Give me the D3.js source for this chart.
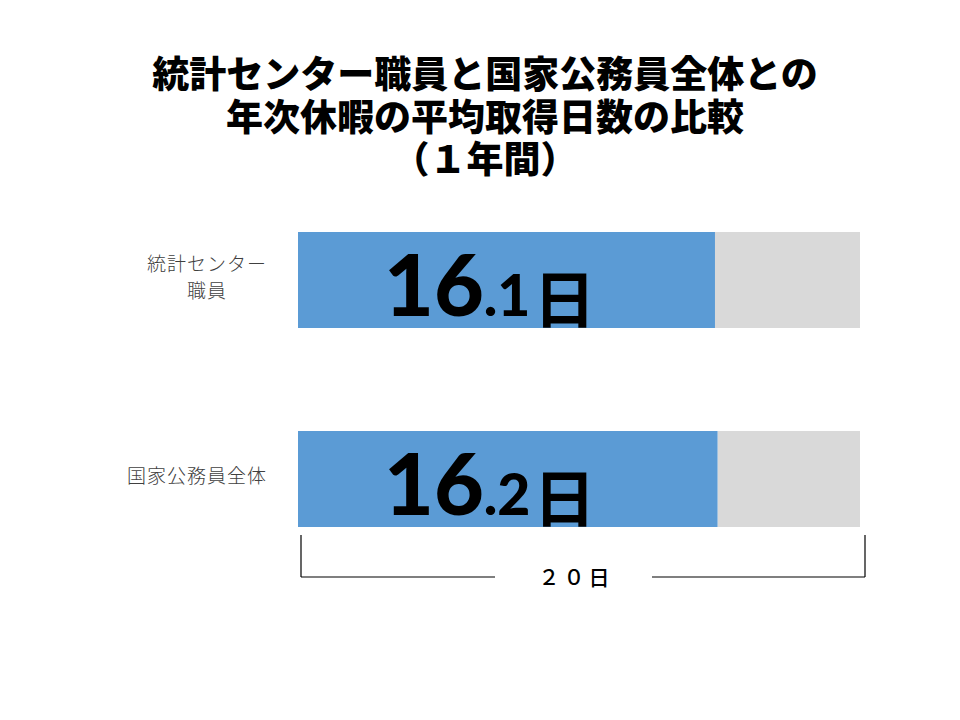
<!DOCTYPE html>
<html>
<head>
<meta charset="utf-8">
<script src="https://cdn.jsdelivr.net/npm/d3@7"></script>
<style>
  html, body { margin: 0; padding: 0; background: #fff; }
</style>
</head>
<body>
<div id="chart"></div>
<script>
const titleLines = ["統計センター職員と国家公務員全体との", "年次休暇の平均取得日数の比較", "（１年間）"];
const categories = [["統計センター", "職員"], ["国家公務員全体"]];
const daysTaken = [16.1, 16.2];
const scaleMax = 21.7;
const bracketLabel = "２０日";

const width = 960;
const height = 720;
const blue = "#5b9bd5";
const grey = "#d9d9d9";

const svg = d3.select("#chart")
    .append("svg")
    .attr("width", width)
    .attr("height", height);

// title
svg.append("g")
    .selectAll("text")
    .data(titleLines)
    .enter().append("text")
    .attr("x", 485)
    .attr("y", (d, i) => 88 + i * 42.5)
    .attr("text-anchor", "middle")
    .style("font-family", "'Noto Sans CJK JP'")
    .style("font-weight", 900)
    .style("font-size", "37px")
    .style("fill", "#000")
    .text(d => d);

const x = d3.scaleLinear()
    .domain([0, scaleMax])
    .range([298, 860]);

const y = d3.scaleBand()
    .domain(d3.range(daysTaken.length))
    .range([232, 527])
    .paddingInner(103 / 199)
    .paddingOuter(0);

const rows = svg.append("g")
    .selectAll("g")
    .data(daysTaken)
    .enter().append("g")
    .attr("transform", (d, i) => `translate(0,${y(i)})`);

// grey remainder
rows.append("rect")
    .attr("x", d => x(d))
    .attr("y", 0)
    .attr("width", d => x(scaleMax) - x(d))
    .attr("height", y.bandwidth())
    .style("fill", grey);

// taken days
rows.append("rect")
    .attr("x", x(0))
    .attr("y", 0)
    .attr("width", d => x(d) - x(0))
    .attr("height", y.bandwidth())
    .style("fill", blue);

// value labels: big integer part, smaller decimal part and 日
const valueText = rows.append("text")
    .attr("x", 384)
    .attr("y", 84)
    .style("fill", "#000");
valueText.append("tspan")
    .style("font-family", "Lato")
    .style("font-weight", 900)
    .style("font-size", "86px")
    .text(d => Math.floor(d));
valueText.append("tspan")
    .style("font-family", "Lato")
    .style("font-weight", 900)
    .style("font-size", "57px")
    .text(d => "." + d3.format(".1f")(d).split(".")[1]);
valueText.append("tspan")
    .attr("dx", 3)
    .attr("dy", 7)
    .style("font-family", "'Noto Sans CJK JP'")
    .style("font-weight", 700)
    .style("font-size", "62px")
    .text("日");

// category labels, right-aligned block with centered lines
rows.each(function (d, i) {
    const g = d3.select(this);
    const lines = categories[i];
    const lineH = 27;
    const texts = g.append("g").selectAll("text")
        .data(lines)
        .enter().append("text")
        .attr("y", (l, j) => y.bandwidth() / 2 + 4 - (lines.length - 1) * lineH / 2 + j * lineH)
        .attr("text-anchor", "middle")
        .style("font-family", "'Noto Sans CJK JP'")
        .style("font-weight", 300)
        .style("font-size", "19px")
        .style("letter-spacing", "1px")
        .style("fill", "#404040")
        .text(l => l);
    let maxW = 0;
    texts.each(function () { maxW = Math.max(maxW, this.getComputedTextLength()); });
    texts.attr("x", 267 - maxW / 2);
});

// bracket below bars
const bracket = svg.append("g")
    .style("stroke", "#000")
    .style("stroke-width", 1.2)
    .style("fill", "none");
const by = 577;
const bl = x(0) + 3;
const br = x(scaleMax) + 5;
bracket.append("line").attr("x1", bl).attr("x2", bl).attr("y1", 535).attr("y2", by);
bracket.append("line").attr("x1", br).attr("x2", br).attr("y1", 535).attr("y2", by);
bracket.append("line").attr("x1", bl).attr("x2", 495).attr("y1", by).attr("y2", by);
bracket.append("line").attr("x1", 652).attr("x2", br).attr("y1", by).attr("y2", by);

svg.append("text")
    .attr("x", 576)
    .attr("y", 585)
    .attr("text-anchor", "middle")
    .style("font-family", "'Noto Sans CJK JP'")
    .style("font-weight", 500)
    .style("font-size", "21px")
    .style("letter-spacing", "4px")
    .style("fill", "#000")
    .text(bracketLabel);
</script>
</body>
</html>
